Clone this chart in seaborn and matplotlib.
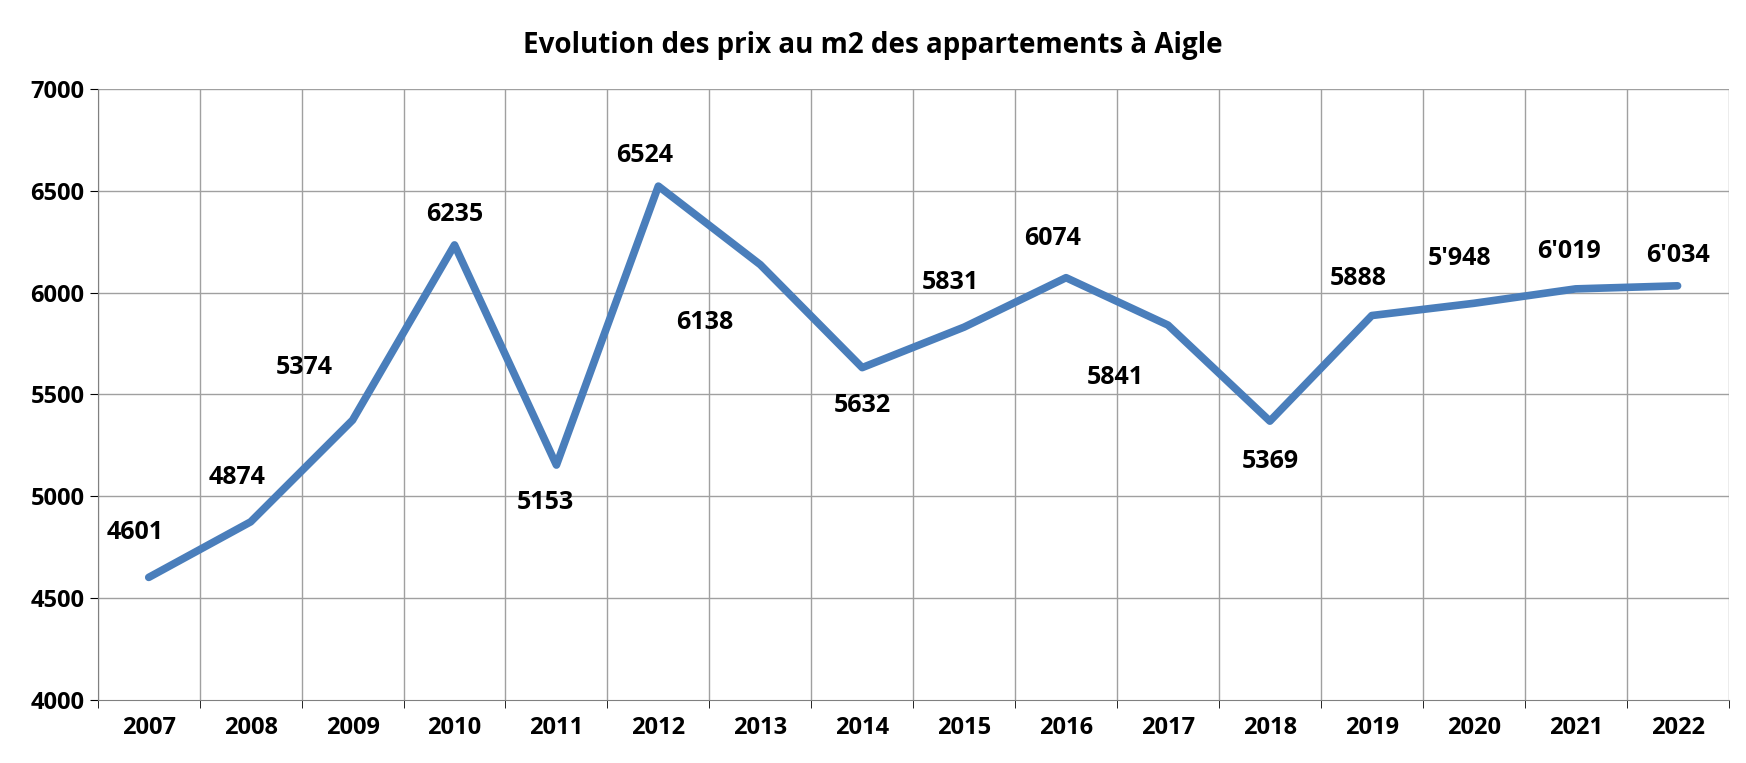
import matplotlib
matplotlib.use("Agg")
import matplotlib.pyplot as plt
import seaborn as sns
import pandas as pd
import numpy as np

years = ["2007","2008","2009","2010","2011","2012","2013","2014","2015","2016","2017","2018","2019","2020","2021","2022"]
prices = [4601,4874,5374,6235,5153,6524,6138,5632,5831,6074,5841,5369,5888,5948,6019,6034]
labels = ["4601","4874","5374","6235","5153","6524","6138","5632","5831","6074","5841","5369","5888","5'948","6'019","6'034"]
# label offsets in points (dx, dy)
offsets = [(-10,32),(-10,32),(-35,38),(0,22),(-8,-27),(-10,22),(-40,-42),(0,-27),(-10,32),(-10,28),(-38,-38),(0,-29),(-10,27),(-10,32),(-5,27),(0,22)]

df = pd.DataFrame({"x": np.arange(len(years)), "price": prices})

plt.rcParams["font.family"] = "Open Sans"
fig = plt.figure(figsize=(17.46, 7.63), dpi=100)
ax = fig.add_axes([0.056, 0.083, 0.934, 0.800])
sns.lineplot(data=df, x="x", y="price", ax=ax, color="#4a7ebb", linewidth=5.5, solid_capstyle="round")

ax.set_xlim(-0.5, len(years) - 0.5)
ax.set_ylim(4000, 7000)
ax.set_yticks(range(4000, 7001, 500))
ax.set_xticks(np.arange(len(years)))
ax.set_xticklabels(years, fontweight="bold", fontsize=17)
ax.tick_params(axis="y", labelsize=17, length=6)
for t in ax.get_yticklabels():
    t.set_fontweight("bold")
ax.tick_params(axis="x", length=0, pad=12)
ax.set_xticks(np.arange(-0.5, len(years), 1), minor=True)
ax.tick_params(axis="x", which="minor", length=6)
ax.grid(False)
for yv in range(4500, 7001, 500):
    ax.axhline(yv, color="#a0a0a0", linewidth=1, zorder=0)
for xv in np.arange(-0.5, len(years), 1):
    ax.axvline(xv, color="#a0a0a0", linewidth=1, zorder=0)
ax.set_xlabel("")
ax.set_ylabel("")
for s in ["top", "right"]:
    ax.spines[s].set_visible(False)
for s in ["left", "bottom"]:
    ax.spines[s].set_color("#808080")

for i, (p, lab) in enumerate(zip(prices, labels)):
    dx, dy = offsets[i]
    ax.annotate(lab, (i, p), xytext=(dx, dy), textcoords="offset points",
                ha="center", va="center", fontsize=18, fontweight="bold")

fig.suptitle("Evolution des prix au m2 des appartements à Aigle", y=0.96, fontsize=20, fontweight="bold")
fig.savefig("out.png", dpi=100)
